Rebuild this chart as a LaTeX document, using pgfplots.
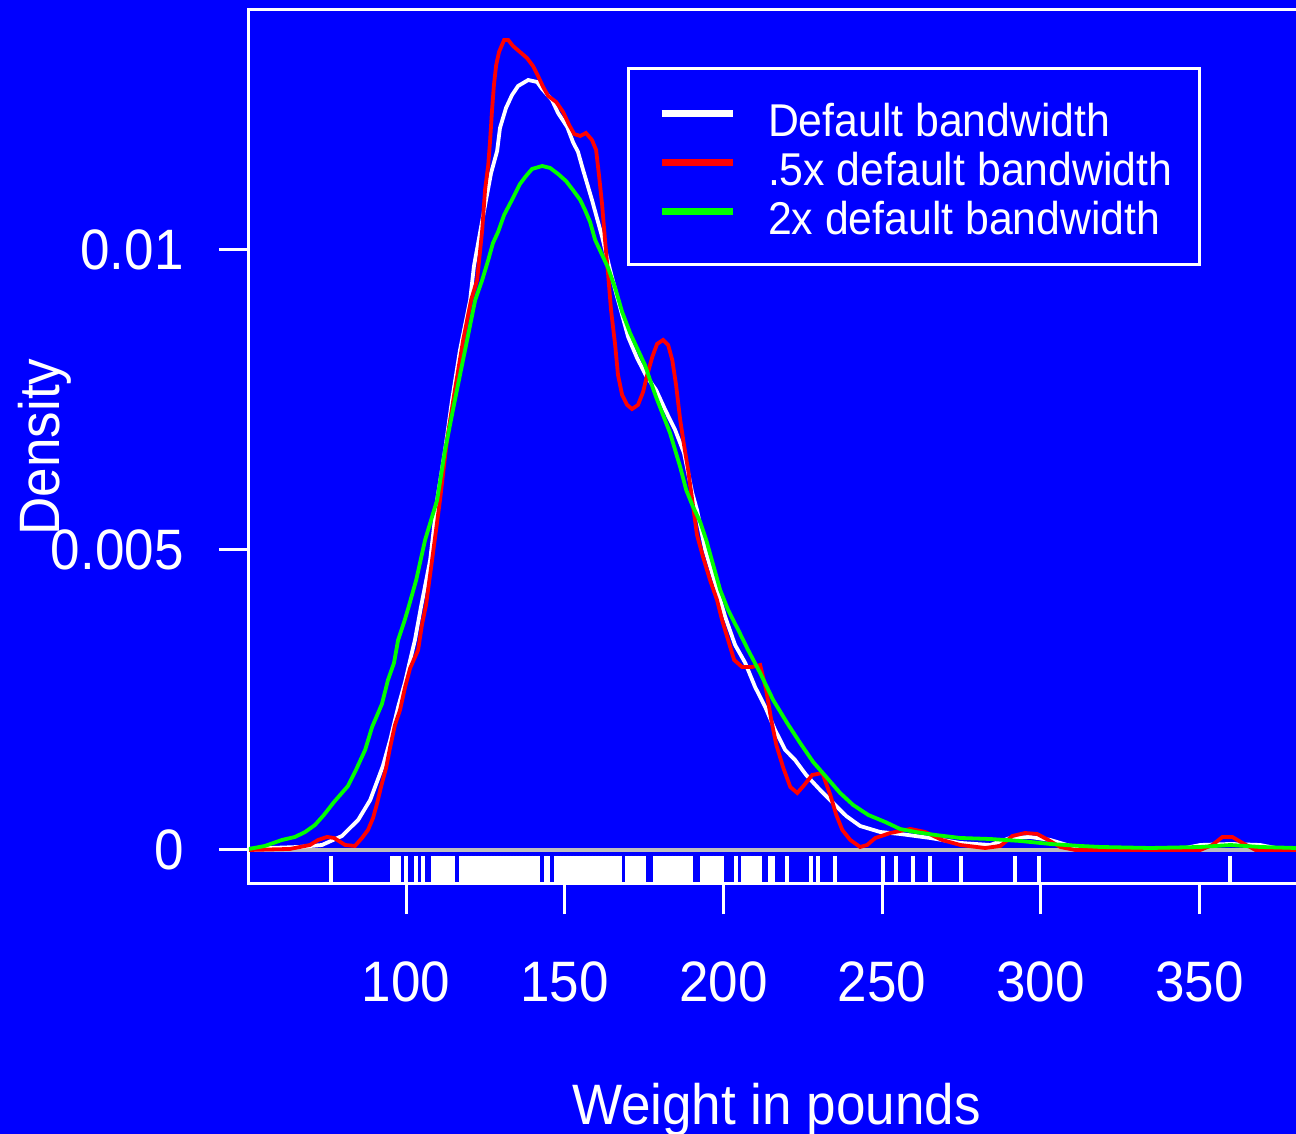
\documentclass[border=0pt]{standalone}
\usepackage{fontspec}
\setmainfont{Liberation Sans}[FakeStretch=0.93]
\usepackage{pgfplots}
\pgfplotsset{compat=1.18}
\definecolor{rblue}{RGB}{0,0,255}
\definecolor{rred}{RGB}{255,0,0}
\definecolor{rgreen}{RGB}{0,255,0}
\definecolor{rgray}{RGB}{190,190,190}
\newcommand\axfont{\fontsize{28.5}{34}\selectfont}
\newcommand\legfont{\fontsize{23}{27}\selectfont}
\begin{document}
\begin{tikzpicture}
\fill[rblue] (-124.5pt,-125pt) rectangle (523.5pt,442pt);
\begin{scope}
\clip (-124.5pt,-125pt) rectangle (523.5pt,442pt);
\begin{axis}[
  at={(0pt,0pt)}, anchor=south west,
  scale only axis, width=527.5pt, height=437pt,
  xmin=50.5, xmax=383, ymin=-0.000567, ymax=0.014,
  axis line style={white, line width=1.5pt},
  tick pos=left, tick align=outside, major tick length=15pt,
  tick style={white, line width=1.5pt},
  xtick={100,150,200,250,300,350},
  xticklabels={100,150,200,250,300,350},
  ytick={0,0.005,0.01},
  yticklabels={0,0.005,0.01},
  scaled y ticks=false,
  /pgf/number format/assume math mode=true,
  ticklabel style={text=white, font=\axfont, inner sep=0pt},
  xticklabel style={anchor=north, yshift=-23.5pt},
  yticklabel style={anchor=east, xshift=-17.5pt},
  xlabel={Weight in pounds},
  ylabel={Density},
  xlabel style={at={(axis description cs:0.5,-0.27574)}, anchor=base, text=white, font=\axfont},
  ylabel style={at={(axis description cs:-0.17915,0.5)}, anchor=base, rotate=0, text=white, font=\axfont},
  legend style={at={(0.35829,0.93478)}, anchor=north west, draw=white, line width=1.5pt,
    fill=none, text=white, font=\legfont, inner xsep=13.5pt, inner ysep=13.5pt,
    row sep=2.7pt, column sep=16pt, nodes={inner sep=0pt}, cells={anchor=base west}},
  legend image code/.code={\path[draw=none,fill=none] (0pt,0pt) -- (0pt,20.3pt);
    \draw[#1,line width=3.5pt] (3pt,11.5pt) -- (38.5pt,11.5pt);},
]
% zero line
\addplot[rgray, line width=1.75pt, forget plot] coordinates {(50.5,0) (383,0)};
% rug
\addplot[only marks, mark=|, mark size=7pt, white, mark options={line width=2pt}, forget plot] coordinates {
(76.4,-0.000333) (95.6,-0.000333) (96.6,-0.000333) (97.8,-0.000333) (100.0,-0.000333) (103.1,-0.000333) (105.2,-0.000333)
(108.5,-0.000333) (109.5,-0.000333) (110.5,-0.000333) (111.5,-0.000333) (112.5,-0.000333) (113.5,-0.000333) (114.5,-0.000333) (114.8,-0.000333)
(117.3,-0.000333) (118.3,-0.000333) (119.3,-0.000333) (120.3,-0.000333) (121.3,-0.000333) (122.3,-0.000333) (123.3,-0.000333) (124.3,-0.000333)
(125.3,-0.000333) (126.3,-0.000333) (127.3,-0.000333) (128.3,-0.000333) (129.3,-0.000333) (130.3,-0.000333) (131.3,-0.000333) (132.3,-0.000333)
(133.3,-0.000333) (134.3,-0.000333) (135.3,-0.000333) (136.3,-0.000333) (137.3,-0.000333) (138.3,-0.000333) (139.3,-0.000333) (140.3,-0.000333)
(141.3,-0.000333) (141.6,-0.000333) (144.1,-0.000333) (144.8,-0.000333)
(147.3,-0.000333) (148.3,-0.000333) (149.3,-0.000333) (150.3,-0.000333) (151.3,-0.000333) (152.3,-0.000333) (153.3,-0.000333) (154.3,-0.000333)
(155.3,-0.000333) (156.3,-0.000333) (157.3,-0.000333) (158.3,-0.000333) (159.3,-0.000333) (160.3,-0.000333) (161.3,-0.000333) (162.3,-0.000333)
(163.3,-0.000333) (164.3,-0.000333) (165.3,-0.000333) (166.3,-0.000333) (167.3,-0.000333) (167.5,-0.000333)
(169.7,-0.000333) (170.7,-0.000333) (171.7,-0.000333) (172.7,-0.000333) (173.7,-0.000333) (174.7,-0.000333) (175.0,-0.000333)
(178.5,-0.000333) (179.5,-0.000333) (180.5,-0.000333) (181.5,-0.000333) (182.5,-0.000333) (183.5,-0.000333) (184.5,-0.000333) (185.5,-0.000333)
(186.5,-0.000333) (187.5,-0.000333) (188.5,-0.000333) (189.5,-0.000333) (189.9,-0.000333)
(193.3,-0.000333) (194.3,-0.000333) (195.3,-0.000333) (196.3,-0.000333) (197.3,-0.000333) (198.3,-0.000333) (199.3,-0.000333) (199.6,-0.000333)
(204.1,-0.000333) (206.2,-0.000333) (207.2,-0.000333) (208.2,-0.000333) (209.2,-0.000333) (210.2,-0.000333) (211.2,-0.000333) (211.6,-0.000333)
(214.7,-0.000333) (215.6,-0.000333) (220.1,-0.000333) (227.7,-0.000333) (229.7,-0.000333) (235.1,-0.000333) (250.2,-0.000333) (254.5,-0.000333)
(259.8,-0.000333) (265.2,-0.000333) (274.8,-0.000333) (292.0,-0.000333) (299.6,-0.000333) (359.6,-0.000333)
};
% default bandwidth
\addplot[white, line width=1.9pt] coordinates {
(50.5,0.000017) (57.1,0.000033) (66.3,0.00005) (73.5,0.000083) (79.8,0.000233) (84.9,0.0005) (88.7,0.000833)
(92.7,0.0014) (95.0,0.001833) (97.5,0.002383) (99.7,0.0028) (101.3,0.003167) (102.8,0.0035) (104.7,0.00405)
(107.6,0.004833) (109.8,0.005833) (112.3,0.006667) (114.5,0.0075) (117.0,0.008333) (120.2,0.009167) (121.4,0.009733)
(123.3,0.010283) (125.2,0.010833) (126.8,0.011283) (128.7,0.01165) (129.6,0.012033) (131.5,0.012367) (133.4,0.012583)
(135.3,0.012733) (138.5,0.012833) (141.3,0.0128) (142.9,0.012683) (146.0,0.0125) (147.9,0.012283) (150.8,0.01205)
(152.6,0.0118) (154.2,0.011633) (155.8,0.011333) (158.6,0.010833) (161.8,0.010217) (164.3,0.009667) (166.2,0.009283)
(167.5,0.009033) (170.0,0.00855) (172.8,0.0082) (175.7,0.0079) (178.8,0.007667) (181.7,0.007333) (184.8,0.007)
(187.6,0.006617) (190.2,0.00595) (191.7,0.005667) (194.3,0.005) (197.4,0.00445) (200.6,0.003883) (203.7,0.003417)
(206.9,0.003117) (210.0,0.002717) (213.2,0.002383) (216.3,0.002) (219.5,0.001667) (222.6,0.0015) (226.1,0.00125)
(230.5,0.001) (234.6,0.000783) (238.7,0.000567) (243.1,0.0004) (249.4,0.0003) (255.7,0.000267) (265.2,0.0002)
(274.7,0.000117) (284.1,0.000083) (290.4,0.0002) (296.7,0.000217) (303.0,0.000167) (309.3,0.000067) (315.6,0.000017)
(334.6,0.000017) (345.6,0.000033) (350.3,0.000083) (359.8,0.0001) (369.2,0.000083) (375.5,0.000017) (385.0,0)
};
\addlegendentry{Default bandwidth}
% 0.5x bandwidth
\addplot[rred, line width=1.9pt] coordinates {
(50.5,0) (63.4,0.000017) (69.7,0.000083) (72.3,0.000167) (75.1,0.000217) (77.3,0.0002) (80.8,0.000083) (83.9,0.000067)
(86.1,0.0002) (88.0,0.000333) (89.6,0.000533) (90.9,0.000783) (92.1,0.00105) (93.7,0.001367) (95.0,0.001717)
(96.5,0.002083) (98.1,0.002333) (99.7,0.002717) (101.3,0.003033) (103.8,0.003333) (105.0,0.00375) (106.3,0.004083)
(108.2,0.004833) (110.7,0.005833) (112.9,0.006833) (115.4,0.007667) (118.0,0.0085) (120.5,0.009167) (122.4,0.0095)
(124.0,0.010333) (124.9,0.011) (125.9,0.011417) (126.5,0.011833) (127.1,0.012333) (127.7,0.01275) (128.4,0.013083)
(129.3,0.0133) (130.9,0.0135) (132.2,0.0135) (133.7,0.0134) (135.9,0.0133) (138.1,0.0132) (140.0,0.013067)
(141.6,0.0129) (143.2,0.012717) (144.8,0.012567) (147.3,0.012467) (149.5,0.0123) (151.4,0.012083) (153.0,0.011933)
(154.9,0.0119) (156.7,0.01195) (158.6,0.011833) (159.9,0.011667) (160.8,0.01125) (161.8,0.01075) (162.7,0.010167)
(163.7,0.009583) (164.6,0.009) (165.9,0.008417) (166.8,0.007917) (168.1,0.007583) (169.7,0.007417) (171.2,0.00735)
(173.1,0.007417) (174.7,0.007633) (176.0,0.007917) (177.6,0.008217) (179.1,0.008433) (181.0,0.0085) (182.6,0.008417)
(183.9,0.008167) (185.1,0.00775) (186.4,0.007167) (187.6,0.00675) (188.9,0.006333) (190.2,0.005833) (191.7,0.00525)
(193.6,0.004883) (195.8,0.0045) (198.0,0.004167) (199.6,0.003833) (201.5,0.0035) (203.4,0.003167) (205.9,0.00305)
(209.1,0.00305) (211.6,0.003083) (213.5,0.002667) (215.1,0.002167) (216.7,0.00175) (218.9,0.001367) (221.1,0.00105)
(223.3,0.00095) (225.5,0.001083) (228.0,0.00125) (231.2,0.001283) (233.7,0.000917) (235.6,0.000583) (237.5,0.000333)
(240.0,0.000167) (243.1,0.00005) (245.3,0.000083) (247.9,0.0002) (252.6,0.000283) (258.9,0.00035) (263.6,0.0003)
(268.9,0.000167) (274.7,0.000083) (282.5,0.000033) (287.3,0.000067) (291.1,0.000233) (295.1,0.000283) (298.9,0.000267)
(302.4,0.000167) (306.2,0.00005) (310.9,0) (350.3,0) (354.1,0.000083) (357.3,0.000217) (360.4,0.000217)
(363.6,0.000117) (367.7,0) (385.0,0)
};
\addlegendentry{.5x default bandwidth}
% 2x bandwidth
\addplot[rgreen, line width=1.9pt] coordinates {
(50.5,0.000017) (55.5,0.000067) (60.9,0.000167) (65.0,0.000217) (68.2,0.0003) (71.3,0.000417) (74.1,0.000583)
(77.3,0.0008) (81.7,0.001067) (84.2,0.001333) (87.1,0.001667) (89.3,0.00205) (92.4,0.002433) (94.3,0.002833)
(96.2,0.003117) (97.5,0.0035) (99.4,0.0038) (100.9,0.004067) (103.2,0.0045) (106.0,0.005167) (109.8,0.005833)
(112.3,0.006667) (115.4,0.0075) (118.6,0.008333) (121.8,0.009167) (124.0,0.0095) (125.9,0.009833) (127.4,0.010117)
(129.0,0.0103) (130.9,0.010583) (133.7,0.010867) (135.9,0.0111) (137.8,0.011233) (139.7,0.01135) (142.9,0.0114)
(145.4,0.011367) (147.9,0.011267) (150.4,0.01115) (152.6,0.011) (154.9,0.010833) (156.4,0.010667) (158.0,0.010467)
(159.6,0.010167) (161.8,0.009917) (163.7,0.0097) (165.9,0.009367) (168.1,0.008967) (170.6,0.008617) (172.8,0.008367)
(175.3,0.008083) (176.9,0.007833) (178.8,0.00755) (181.0,0.00725) (183.2,0.00695) (184.8,0.006667) (186.4,0.006383)
(188.3,0.006) (190.2,0.00575) (192.7,0.005467) (194.6,0.005167) (196.8,0.00475) (199.0,0.004333) (201.5,0.004)
(204.7,0.003667) (207.8,0.003333) (211.6,0.00295) (215.7,0.0025) (220.1,0.002117) (224.2,0.001783) (228.3,0.001467)
(232.7,0.0012) (236.8,0.00095) (240.9,0.00075) (245.7,0.000583) (251.0,0.000467) (255.7,0.00035) (260.5,0.0003)
(266.8,0.00025) (274.7,0.0002) (284.1,0.000183) (293.6,0.00015) (303.0,0.0001) (312.5,0.000067) (318.8,0.00005)
(334.6,0.000033) (350.3,0.00005) (359.8,0.000083) (369.2,0.00005) (380.6,0.000033) (385.0,0.000033)
};
\addlegendentry{2x default bandwidth}
\end{axis}
\end{scope}
\pgfresetboundingbox
\useasboundingbox (-124.5pt,-125pt) rectangle (523.5pt,442pt);
\end{tikzpicture}
\end{document}
